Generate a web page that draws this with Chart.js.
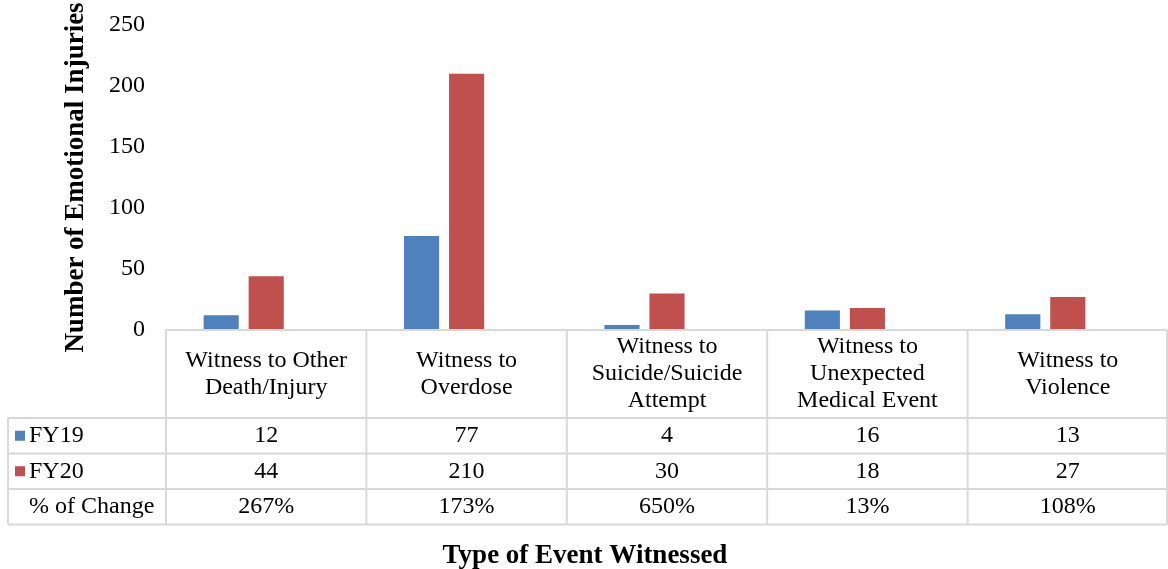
<!DOCTYPE html>
<html>
<head>
<meta charset="utf-8">
<script src="https://cdn.jsdelivr.net/npm/chart.js@4"></script>
<style>
  html, body { margin: 0; padding: 0; background: #fff; }
  #wrap { width: 1168px; height: 569px; }
</style>
</head>
<body>
<div id="wrap"><canvas id="injuriesChart"></canvas></div>
<script>
// data
const categories = [
    ['Witness to Other', 'Death/Injury'],
    ['Witness to', 'Overdose'],
    ['Witness to', 'Suicide/Suicide', 'Attempt'],
    ['Witness to', 'Unexpected', 'Medical Event'],
    ['Witness to', 'Violence']
];
const fy19 = [12, 77, 4, 16, 13];
const fy20 = [44, 210, 30, 18, 27];
const pctChange = ['267%', '173%', '650%', '13%', '108%'];
const yTicks = [0, 50, 100, 150, 200, 250];

const BLUE = '#4F81BD';
const RED = '#C0504D';
const LINE = '#d9d9d9';
const FONT = '"Liberation Serif", "Times New Roman", serif';

// draws the data table under the plot, aligned on the x scale
const dataTable = {
    id: 'dataTable',
    afterDraw(chart) {
        const { ctx, chartArea } = chart;
        const x = chart.scales.x;
        const n = categories.length;
        const colW = (chartArea.right - chartArea.left) / n;
        const top = chartArea.bottom;
        const headBottom = top + 88;
        const rowH = 35.5;
        const tableLeft = 8;
        const right = chartArea.right - 1;
        const bottom = headBottom + rowH * 3;

        ctx.save();
        ctx.strokeStyle = LINE;
        ctx.lineWidth = 2;
        ctx.beginPath();
        // header top line
        ctx.moveTo(chartArea.left, top); ctx.lineTo(right, top);
        // row lines
        for (let r = 0; r <= 3; r++) {
            const y = headBottom + r * rowH;
            ctx.moveTo(tableLeft, y); ctx.lineTo(right, y);
        }
        // verticals
        for (let i = 0; i <= n; i++) {
            const xx = i === n ? right : chartArea.left + i * colW;
            ctx.moveTo(xx, top); ctx.lineTo(xx, bottom);
        }
        ctx.moveTo(tableLeft, headBottom); ctx.lineTo(tableLeft, bottom);
        ctx.stroke();

        ctx.fillStyle = '#000';
        ctx.font = '24px ' + FONT;
        ctx.textAlign = 'center';
        ctx.textBaseline = 'middle';
        const lh = 27;
        const headMid = (top + headBottom) / 2;
        categories.forEach((lines, i) => {
            const cx = x.getPixelForValue(i);
            const y0 = headMid - (lines.length - 1) * lh / 2;
            lines.forEach((t, k) => ctx.fillText(t, cx, y0 + k * lh));
            ctx.fillText(String(fy19[i]), cx, headBottom + rowH * 0.5);
            ctx.fillText(String(fy20[i]), cx, headBottom + rowH * 1.5);
            ctx.fillText(pctChange[i], cx, headBottom + rowH * 2.5);
        });

        // row headers with legend keys
        ctx.textAlign = 'left';
        const rows = [['FY19', BLUE], ['FY20', RED], ['% of Change', null]];
        rows.forEach(([label, color], r) => {
            const cy = headBottom + rowH * (r + 0.5);
            if (color) {
                ctx.fillStyle = color;
                ctx.fillRect(15, cy - 5, 10, 10);
            }
            ctx.fillStyle = '#000';
            ctx.fillText(label, 29, cy);
        });

        // x axis title
        ctx.font = 'bold 27px ' + FONT;
        ctx.textAlign = 'center';
        ctx.fillText('Type of Event Witnessed', 585, 556);
        ctx.restore();
    }
};

new Chart(document.getElementById('injuriesChart'), {
    type: 'bar',
    data: {
        labels: categories,
        datasets: [
            { label: 'FY19', data: fy19, backgroundColor: BLUE },
            { label: 'FY20', data: fy20, backgroundColor: RED },
            // '% of Change' row has no bars but still takes a slot in each group
            { label: '% of Change', data: [], backgroundColor: 'rgba(0,0,0,0)' }
        ]
    },
    options: {
        responsive: true,
        maintainAspectRatio: false,
        animation: false,
        categoryPercentage: 0.674,
        barPercentage: 0.78,
        layout: { padding: { top: 25, right: 0, bottom: 239, left: 0 } },
        plugins: {
            legend: { display: false },
            tooltip: { enabled: false }
        },
        scales: {
            x: { display: false },
            y: {
                min: 0,
                max: 250,
                afterBuildTicks: (scale) => { scale.ticks = yTicks.map(v => ({ value: v })); },
                afterFit: (scale) => {
                    scale.width = 166;
                    scale.paddingTop = 0;
                    scale.paddingBottom = 0;
                },
                grid: { display: false, drawTicks: false },
                border: { display: false },
                ticks: {
                    padding: 21,
                    color: '#000',
                    font: { family: FONT, size: 24 }
                },
                title: {
                    display: true,
                    text: 'Number of Emotional Injuries',
                    color: '#000',
                    font: { family: FONT, size: 27, weight: 'bold' },
                    padding: { top: 60, bottom: 0 }
                }
            }
        }
    },
    plugins: [dataTable]
});
</script>
</body>
</html>
